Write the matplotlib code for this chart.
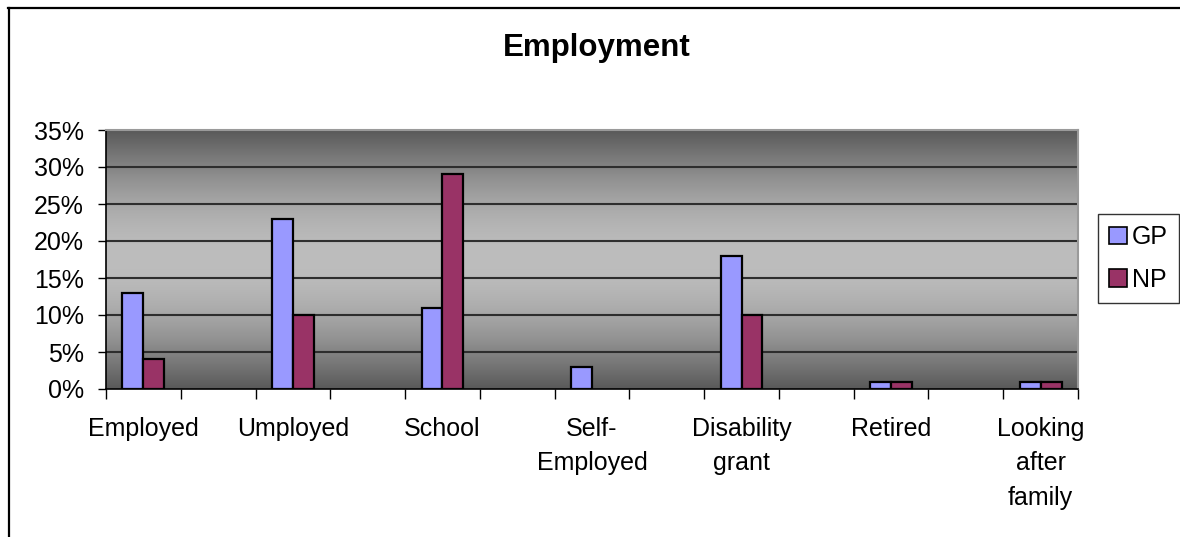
#!/usr/bin/env python3
"""Employment bar chart (GP vs NP), Excel-style gradient plot area."""
import matplotlib
matplotlib.use("Agg")
import matplotlib.pyplot as plt
import numpy as np
from matplotlib.lines import Line2D
from matplotlib.patches import Patch

plt.rcParams["font.family"] = ["Liberation Sans", "DejaVu Sans"]

categories = ["Employed", "Umployed", "School", "Self-\nEmployed",
              "Disability\ngrant", "Retired", "Looking\nafter\nfamily"]
gp = [13, 23, 11, 3, 18, 1, 1]
np_vals = [4, 10, 29, 0, 10, 1, 1]
yticks = [0, 5, 10, 15, 20, 25, 30, 35]

C_GP = "#9999FF"
C_NP = "#993366"

W, H = 1180, 537
fig = plt.figure(figsize=(W / 100, H / 100), dpi=100)
fig.patch.set_facecolor("white")
ax = fig.add_axes([106 / W, 1 - 389 / H, 972 / W, 259 / H])

# every labelled category sits in its own slot with an empty slot between
pos = np.arange(len(categories)) * 2
n_slots = 2 * len(categories) - 1
ax.set_xlim(-0.5, n_slots - 0.5)
ax.set_ylim(0, 35)

# dark-light-dark vertical gradient behind the bars
t = np.linspace(0, 1, 256)
shade = 0.35 + (0.74 - 0.35) * np.sin(np.pi * t)
grad = np.dstack([shade, shade, shade]).reshape(256, 1, 3)
ax.imshow(grad, extent=(-0.5, n_slots - 0.5, 0, 35), origin="lower",
          aspect="auto", zorder=0, interpolation="bilinear")

for y in yticks[1:-1]:
    ax.axhline(y, color="#2e2e2e", lw=1.5, zorder=1)

bw = 0.28
gp_bars = ax.bar(pos - bw / 2, gp, width=bw, color=C_GP, edgecolor="black",
                 linewidth=1.6, zorder=3)
np_bars = ax.bar(pos + bw / 2, np_vals, width=bw, color=C_NP,
                 edgecolor="black", linewidth=1.6, zorder=3)
# zero values get no outline stub on the axis
for bar, v in zip(np_bars, np_vals):
    if v == 0:
        bar.set_visible(False)

ax.set_yticks(yticks)
ax.set_yticklabels([f"{v}%" for v in yticks], fontsize=18)
ax.tick_params(axis="y", length=6, width=1, pad=10, color="black")

ax.set_xticks(pos)
ax.set_xticklabels(categories, fontsize=18)
for lbl in ax.get_xticklabels():
    lbl.set_linespacing(1.55)
ax.set_xticks(np.arange(-0.5, n_slots, 1.0), minor=True)
ax.tick_params(axis="x", which="major", length=0, pad=20)
ax.tick_params(axis="x", which="minor", length=7, width=1, color="black")

for side in ("left", "bottom"):
    ax.spines[side].set_color("black")
    ax.spines[side].set_linewidth(1.2)
for side in ("top", "right"):
    ax.spines[side].set_color("#9a9a9a")
    ax.spines[side].set_linewidth(1.5)

fig.text(597 / W, 1 - 48 / H, "Employment", ha="center", va="center",
         fontsize=22.5, fontweight="bold")

handles = [Patch(facecolor=C_GP, edgecolor="black", linewidth=1.2, label="GP"),
           Patch(facecolor=C_NP, edgecolor="black", linewidth=1.2, label="NP")]
leg = fig.legend(handles=handles, loc="lower left",
                 bbox_to_anchor=(1098 / W, 1 - 303 / H), fontsize=18,
                 frameon=True, fancybox=False, handlelength=0.7,
                 handleheight=0.7, handletextpad=0.2, labelspacing=0.75,
                 borderpad=0.45, borderaxespad=0)
leg.get_frame().set_edgecolor("black")
leg.get_frame().set_linewidth(1.0)

# outer chart border: top and left edges only
yb = 1 - 8 / H
fig.add_artist(Line2D([8 / W, 1], [yb, yb], color="black", lw=1.6))
fig.add_artist(Line2D([9 / W, 9 / W], [0, yb], color="black", lw=1.6))

fig.savefig("out.png", dpi=100, facecolor="white")
